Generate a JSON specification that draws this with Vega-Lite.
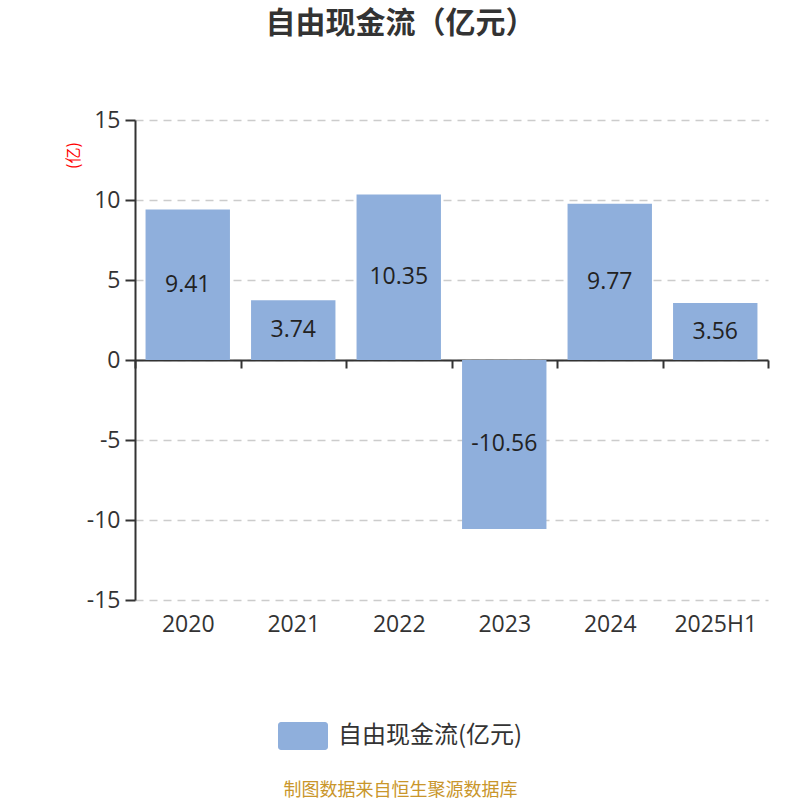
{
  "$schema": "https://vega.github.io/schema/vega-lite/v6.json",
  "autosize": {"type": "none"},
  "width": 633,
  "height": 480,
  "padding": {"left": 135, "top": 120, "right": 32, "bottom": 200},
  "background": "white",
  "config": {"view": {"stroke": null}},
  "title": {
    "text": "自由现金流（亿元）",
    "font": "Noto Sans CJK SC",
    "fontSize": 30,
    "fontWeight": "bold",
    "color": "#333333",
    "anchor": "middle",
    "frame": "group",
    "dx": -51,
    "offset": 70
  },
  "data": {
    "values": [
      {"year": "2020", "value": 9.41},
      {"year": "2021", "value": 3.74},
      {"year": "2022", "value": 10.35},
      {"year": "2023", "value": -10.56},
      {"year": "2024", "value": 9.77},
      {"year": "2025H1", "value": 3.56}
    ]
  },
  "encoding": {
    "x": {
      "field": "year",
      "type": "nominal",
      "sort": null,
      "scale": {"paddingInner": 0, "paddingOuter": 0},
      "axis": {
        "title": "制图数据来自恒生聚源数据库",
        "titleFont": "Noto Sans CJK SC",
        "titleFontSize": 18,
        "titleFontWeight": "normal",
        "titleColor": "#c9962b",
        "titleX": 265,
        "titleY": 430,
        "titleAlign": "center",
        "titleBaseline": "middle",
        "offset": -240,
        "labelAngle": 0,
        "labelFont": "Open Sans, Noto Sans CJK SC",
        "labelFontSize": 23,
        "labelColor": "#333333",
        "labelPadding": 245,
        "tickBand": "extent",
        "tickSize": 8,
        "tickColor": "#333333",
        "tickWidth": 2,
        "domainColor": "#333333",
        "domainWidth": 2,
        "grid": false
      }
    },
    "y": {
      "field": "value",
      "type": "quantitative",
      "scale": {"domain": [-15, 15], "nice": false},
      "axis": {
        "title": "(亿)",
        "titleFont": "Noto Sans CJK SC",
        "titleFontSize": 16,
        "titleFontWeight": "normal",
        "titleColor": "red",
        "titleX": -62,
        "titleY": 35,
        "titleAlign": "center",
        "titleBaseline": "middle",
        "values": [-15, -10, -5, 0, 5, 10, 15],
        "labelExpr": "replace(datum.label, '−', '-')",
        "labelFont": "Open Sans, Noto Sans CJK SC",
        "labelFontSize": 23,
        "labelColor": "#333333",
        "labelPadding": 5,
        "tickSize": 10,
        "tickColor": "#333333",
        "tickWidth": 2,
        "domainColor": "#333333",
        "domainWidth": 2,
        "grid": true,
        "gridColor": "#cccccc",
        "gridDash": [8, 6],
        "gridWidth": 1.5
      }
    }
  },
  "layer": [
    {
      "mark": {"type": "bar", "width": {"band": 0.8}},
      "encoding": {
        "color": {
          "datum": "自由现金流(亿元)",
          "scale": {"range": ["#8fafdc"]},
          "legend": {
            "title": null,
            "orient": "none",
            "legendX": 143,
            "legendY": 591,
            "symbolType": "M-0.88,-0.56 L0.88,-0.56 A0.12,0.12 0 0 1 1,-0.44 L1,0.44 A0.12,0.12 0 0 1 0.88,0.56 L-0.88,0.56 A0.12,0.12 0 0 1 -1,0.44 L-1,-0.44 A0.12,0.12 0 0 1 -0.88,-0.56 Z",
            "symbolSize": 2500,
            "symbolStrokeWidth": 0,
            "symbolOpacity": 1,
            "labelFont": "Noto Sans CJK SC",
            "labelFontSize": 24,
            "labelColor": "#333333",
            "labelLimit": 400,
            "labelOffset": 10
          }
        }
      }
    },
    {
      "transform": [{"calculate": "datum.value / 2", "as": "mid"}],
      "mark": {
        "type": "text",
        "font": "Open Sans, Noto Sans CJK SC",
        "fontSize": 23,
        "color": "#222222",
        "baseline": "middle"
      },
      "encoding": {
        "y": {"field": "mid", "type": "quantitative"},
        "text": {"field": "value", "type": "nominal"}
      }
    }
  ]
}
